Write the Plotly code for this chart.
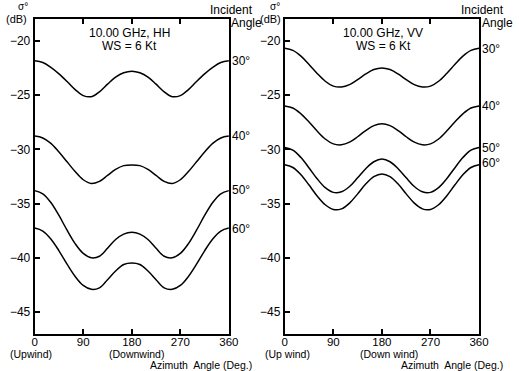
import plotly.graph_objects as go

W, H = 519, 371

azimuth = [0, 15, 30, 45, 60, 75, 90, 105, 120, 135, 150, 165, 180,
           195, 210, 225, 240, 255, 270, 285, 300, 315, 330, 345, 360]

hh_30 = [-21.85, -22.0, -22.45, -23.05, -23.75, -24.5, -25.05, -25.15, -24.7, -24.0, -23.35, -22.95, -22.8,
         -22.95, -23.35, -24.0, -24.7, -25.15, -25.05, -24.5, -23.75, -23.05, -22.45, -22.0, -21.85]
hh_40 = [-28.78, -28.95, -29.45, -30.25, -31.15, -32.05, -32.8, -33.15, -32.95, -32.4, -31.85, -31.5, -31.43,
         -31.5, -31.85, -32.4, -32.95, -33.15, -32.8, -32.05, -31.15, -30.25, -29.45, -28.95, -28.78]
hh_50 = [-33.8, -34.09, -34.89, -36.09, -37.44, -38.68, -39.58, -39.98, -39.84, -39.1, -38.3, -37.8, -37.64,
         -37.8, -38.3, -39.1, -39.84, -39.98, -39.58, -38.68, -37.44, -36.09, -34.89, -34.09, -33.8]
hh_60 = [-37.25, -37.52, -38.25, -39.34, -40.57, -41.7, -42.53, -42.89, -42.75, -42.0, -41.2, -40.6, -40.46,
         -40.6, -41.2, -42.0, -42.75, -42.89, -42.53, -41.7, -40.57, -39.34, -38.25, -37.52, -37.25]

vv_30 = [-20.7, -20.89, -21.42, -22.19, -23.01, -23.73, -24.18, -24.26, -24.04, -23.58, -23.06, -22.65, -22.5,
         -22.65, -23.06, -23.58, -24.04, -24.26, -24.18, -23.73, -23.01, -22.19, -21.42, -20.89, -20.7]
vv_40 = [-26.0, -26.19, -26.73, -27.49, -28.32, -29.05, -29.5, -29.58, -29.34, -28.84, -28.27, -27.82, -27.65,
         -27.82, -28.27, -28.84, -29.34, -29.58, -29.5, -29.05, -28.32, -27.49, -26.73, -26.19, -26.0]
vv_50 = [-29.83, -30.08, -30.76, -31.71, -32.71, -33.53, -33.96, -33.91, -33.42, -32.62, -31.78, -31.14, -30.9,
         -31.14, -31.78, -32.62, -33.42, -33.91, -33.96, -33.53, -32.71, -31.71, -30.76, -30.08, -29.83]
vv_60 = [-31.42, -31.67, -32.34, -33.29, -34.29, -35.1, -35.53, -35.48, -34.95, -34.1, -33.2, -32.52, -32.27,
         -32.52, -33.2, -34.1, -34.95, -35.48, -35.53, -35.1, -34.29, -33.29, -32.34, -31.67, -31.42]

x_ticks = [0, 90, 180, 270, 360]
y_ticks = [-20, -25, -30, -35, -40, -45]
angle_labels = ["30°", "40°", "50°", "60°"]

FONT = "Liberation Sans"


def px(x):
    return x / W


def py(y):
    return 1 - y / H


fig = go.Figure()

for series in [hh_30, hh_40, hh_50, hh_60]:
    fig.add_trace(go.Scatter(x=azimuth, y=series, mode="lines", xaxis="x", yaxis="y",
                             line=dict(color="black", width=1.5, shape="spline", smoothing=1.0),
                             showlegend=False, hoverinfo="skip"))
for series in [vv_30, vv_40, vv_50, vv_60]:
    fig.add_trace(go.Scatter(x=azimuth, y=series, mode="lines", xaxis="x2", yaxis="y2",
                             line=dict(color="black", width=1.5, shape="spline", smoothing=1.0),
                             showlegend=False, hoverinfo="skip"))

xax = dict(range=[0, 360], tickvals=x_ticks, ticks="inside", ticklen=5, tickwidth=1.5,
           tickcolor="black", showline=True, linewidth=2, linecolor="black", mirror="ticks",
           showgrid=False, zeroline=False, ticklabelstandoff=-4,
           tickfont=dict(family=FONT, size=11.5, color="black"))
yax = dict(range=[-47, -18], tickvals=y_ticks, ticks="inside", ticklen=5, tickwidth=1.5,
           tickcolor="black", showline=True, linewidth=2, linecolor="black", mirror=True,
           showgrid=False, zeroline=False, tickfont=dict(family=FONT, size=12, color="black"))

ydom = [py(334), py(19)]
fig.update_layout(
    width=W, height=H,
    margin=dict(l=0, r=0, t=0, b=0),
    paper_bgcolor="white", plot_bgcolor="white",
    xaxis=dict(xax, domain=[px(32.5), px(231.7)], anchor="y"),
    yaxis=dict(yax, domain=ydom, anchor="x"),
    xaxis2=dict(xax, domain=[px(289), px(488.3)], anchor="y2"),
    yaxis2=dict(yax, domain=ydom, anchor="x2"),
    font=dict(family=FONT, size=12, color="black"),
)

anns = []


def add(text, x, y, xanchor="center", size=12):
    anns.append(dict(text=text, x=px(x), y=py(y), xref="paper", yref="paper",
                     xanchor=xanchor, yanchor="middle", showarrow=False, borderpad=0,
                     font=dict(family=FONT, size=size, color="black")))


# left panel texts
add("σ°", 21, 7, size=10)
add("(dB)", 14, 19, size=11)
add("10.00 GHz, HH", 130, 33)
add("WS = 6 Kt", 130, 46)
add("Incident", 234, 10)
add("Angle", 233, 23, xanchor="left")
for lab, yy in zip(angle_labels, [61, 136, 190, 229]):
    add(lab, 234, yy, xanchor="left")
add("(Upwind)", 29, 354, size=10.5)
add("(Downwind)", 137, 354, size=10.5)
add("Azimuth  Angle (Deg.)", 256, 365, xanchor="right", size=10.5)

# right panel texts
add("σ°", 279, 7, size=10)
add("(dB)", 274, 19, size=11)
add("10.00 GHz, VV", 390, 33)
add("WS = 6 Kt", 390, 46)
add("Incident", 492, 10)
add("Angle", 490, 23, xanchor="left")
for lab, yy in zip(angle_labels, [49, 106, 148, 163]):
    add(lab, 490, yy, xanchor="left")
add("(Up wind)", 292, 354, size=10.5)
add("(Down wind)", 396, 354, size=10.5)
add("Azimuth  Angle (Deg.)", 514, 365, xanchor="right", size=10.5)

fig.update_layout(annotations=anns)
fig.write_html("out.html", config={"displayModeBar": False},
               post_script="document.body.style.margin='0';document.body.style.overflow='hidden';")
